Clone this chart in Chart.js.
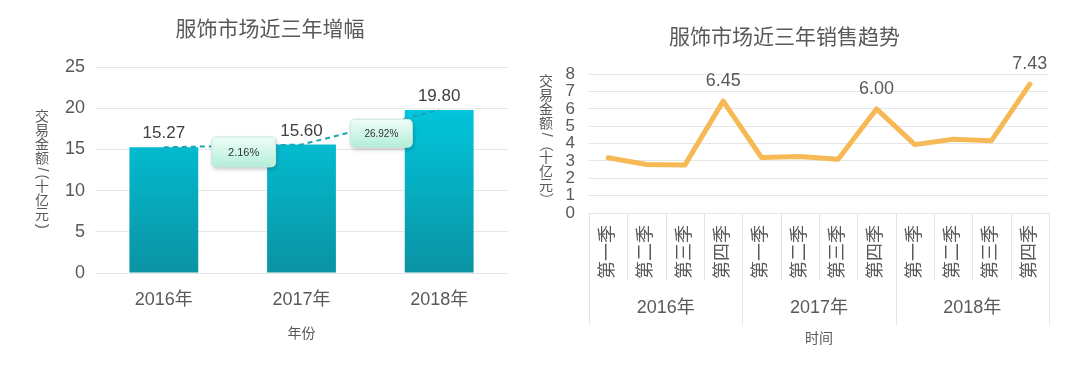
<!DOCTYPE html>
<html>
<head>
<meta charset="utf-8">
<script src="https://cdn.jsdelivr.net/npm/chart.js@4.4.1/dist/chart.umd.min.js"></script>
<style>
  body { margin: 0; background: #fff; }
  .box { position: absolute; top: 0; height: 367px; }
</style>
</head>
<body>
<div class="box" style="left:0;width:540px"><canvas id="growth"></canvas></div>
<div class="box" style="left:520px;width:560px"><canvas id="trend"></canvas></div>
<script>
// data
const years = ['2016年', '2017年', '2018年'];
const yearTotals = [15.27, 15.60, 19.80];
const growthLabels = ['2.16%', '26.92%'];

const quarters = ['第一季', '第二季', '第三季', '第四季',
                  '第一季', '第二季', '第三季', '第四季',
                  '第一季', '第二季', '第三季', '第四季'];
const quarterSales = [3.18, 2.80, 2.76, 6.45, 3.20, 3.26, 3.10, 6.00, 3.94, 4.25, 4.17, 7.43];
const peakIdx = [3, 7, 11];

const FONT = "'Liberation Sans', 'Noto Sans CJK SC', sans-serif";
const TEXT = '#595959';
const GRID = '#e6e6e6';
Chart.defaults.font.family = FONT;
Chart.defaults.color = TEXT;

// vertical axis title, one upright character at a time
function drawVerticalTitle(ctx, text, cx, cy, size) {
  ctx.save();
  ctx.font = size + 'px ' + FONT;
  ctx.fillStyle = TEXT;
  ctx.textAlign = 'center';
  ctx.textBaseline = 'middle';
  const chars = Array.from(text);
  const isCjk = c => /[\u4e00-\u9fff]/.test(c);
  const adv = chars.map(c => isCjk(c) ? size : Math.min(ctx.measureText(c).width, size * 0.7) + 3);
  const total = adv.reduce((a, b) => a + b, 0);
  let y = cy - total / 2;
  chars.forEach((c, i) => {
    const my = y + adv[i] / 2;
    if (isCjk(c)) {
      ctx.fillText(c, cx, my);
    } else {
      ctx.save();
      ctx.translate(cx, my);
      ctx.rotate(Math.PI / 2);
      ctx.fillText(c, 0, 0);
      ctx.restore();
    }
    y += adv[i];
  });
  ctx.restore();
}

function roundRect(ctx, x, y, w, h, r) {
  ctx.beginPath();
  ctx.moveTo(x + r, y);
  ctx.lineTo(x + w - r, y);
  ctx.quadraticCurveTo(x + w, y, x + w, y + r);
  ctx.lineTo(x + w, y + h - r);
  ctx.quadraticCurveTo(x + w, y + h, x + w - r, y + h);
  ctx.lineTo(x + r, y + h);
  ctx.quadraticCurveTo(x, y + h, x, y + h - r);
  ctx.lineTo(x, y + r);
  ctx.quadraticCurveTo(x, y, x + r, y);
  ctx.closePath();
}

const growthDecor = {
  id: 'growthDecor',
  afterDatasetsDraw(chart) {
    const ctx = chart.ctx;
    const bars = chart.getDatasetMeta(0).data;
    const area = chart.chartArea;

    // dashed link between bar tops
    ctx.save();
    ctx.strokeStyle = '#1aa5b4';
    ctx.lineWidth = 2;
    ctx.setLineDash([5, 4]);
    ctx.beginPath();
    bars.forEach((b, i) => i ? ctx.lineTo(b.x, b.y) : ctx.moveTo(b.x, b.y));
    ctx.stroke();
    ctx.restore();

    // value labels
    ctx.save();
    ctx.font = '17px ' + FONT;
    ctx.fillStyle = '#404040';
    ctx.textAlign = 'center';
    ctx.textBaseline = 'bottom';
    bars.forEach((b, i) => ctx.fillText(yearTotals[i].toFixed(2), b.x, b.y - 5));
    ctx.restore();

    // growth callouts
    const sizes = [[64, 30, 11], [62, 28, 10]];
    growthLabels.forEach((txt, i) => {
      const a = bars[i], b = bars[i + 1];
      const cx = (a.x + b.x) / 2 + 11, cy = (a.y + b.y) / 2 + 6;
      const [w, h, fs] = sizes[i];
      ctx.save();
      ctx.shadowColor = 'rgba(0,0,0,0.25)';
      ctx.shadowBlur = 4;
      ctx.shadowOffsetX = 1;
      ctx.shadowOffsetY = 2;
      const g = ctx.createLinearGradient(0, cy - h / 2, 0, cy + h / 2);
      g.addColorStop(0, '#effdf8');
      g.addColorStop(1, '#b3eed8');
      ctx.fillStyle = g;
      roundRect(ctx, cx - w / 2, cy - h / 2, w, h, 5);
      ctx.fill();
      ctx.shadowColor = 'transparent';
      ctx.strokeStyle = '#c9e8dc';
      ctx.lineWidth = 1;
      ctx.stroke();
      ctx.font = fs + 'px ' + FONT;
      ctx.fillStyle = '#333';
      ctx.textAlign = 'center';
      ctx.textBaseline = 'middle';
      ctx.fillText(txt, cx, cy + 1);
      ctx.restore();
    });

    drawVerticalTitle(ctx, '交易金额/(十亿元)', area.left - 53, (area.top + area.bottom) / 2, 14);
  }
};

new Chart(document.getElementById('growth'), {
  type: 'bar',
  data: {
    labels: years,
    datasets: [{
      data: yearTotals,
      backgroundColor(c) {
        const area = c.chart.chartArea;
        if (!area) return '#00b8cc';
        const g = c.chart.ctx.createLinearGradient(0, area.top, 0, area.bottom);
        g.addColorStop(0, '#00d2ea');
        g.addColorStop(1, '#0a93a3');
        return g;
      },
      barPercentage: 0.5,
      categoryPercentage: 1
    }]
  },
  options: {
    responsive: true,
    maintainAspectRatio: false,
    animation: false,
    layout: { padding: { top: 8, right: 32, bottom: 20, left: 32 } },
    plugins: {
      legend: { display: false },
      tooltip: { enabled: false },
      title: {
        display: true,
        text: '服饰市场近三年增幅',
        color: TEXT,
        font: { size: 21, weight: 'normal' },
        padding: { top: 10, bottom: 24 }
      }
    },
    scales: {
      y: {
        min: 0,
        max: 25,
        ticks: { stepSize: 5, font: { size: 18 }, padding: 10 },
        grid: { color: GRID, drawTicks: false },
        border: { display: false },
        afterFit(s) { s.width = 63; }
      },
      x: {
        grid: { display: false, drawTicks: false },
        border: { display: false },
        ticks: { font: { size: 18 }, padding: 16 },
        title: { display: true, text: '年份', font: { size: 14 }, padding: { top: 0, bottom: 4 } },
        afterFit(s) { s.height = 74; }
      }
    }
  },
  plugins: [growthDecor]
});

const trendDecor = {
  id: 'trendDecor',
  afterDraw(chart) {
    const ctx = chart.ctx;
    const xs = chart.scales.x, x2 = chart.scales.x2;
    const area = chart.chartArea;
    const half = (xs.getPixelForValue(1) - xs.getPixelForValue(0)) / 2;
    const groupBottom = x2.top + 45;

    ctx.save();
    ctx.strokeStyle = '#e3e3e3';
    ctx.lineWidth = 1;
    for (let i = 0; i <= quarters.length; i++) {
      const last = i === quarters.length;
      const x = Math.round(xs.getPixelForValue(last ? i - 1 : i) + (last ? half : -half)) + 0.5;
      ctx.beginPath();
      ctx.moveTo(x, area.bottom);
      ctx.lineTo(x, i % 4 === 0 ? groupBottom : xs.bottom);
      ctx.stroke();
    }
    ctx.restore();

    // peak labels
    const pts = chart.getDatasetMeta(0).data;
    ctx.save();
    ctx.font = '18px ' + FONT;
    ctx.fillStyle = TEXT;
    ctx.textAlign = 'center';
    ctx.textBaseline = 'bottom';
    peakIdx.forEach(i => ctx.fillText(quarterSales[i].toFixed(2), pts[i].x, pts[i].y - 11));
    ctx.restore();

    drawVerticalTitle(ctx, '交易金额/（十亿元）', area.left - 43, (area.top + area.bottom) / 2 - 3, 14);
  }
};

new Chart(document.getElementById('trend'), {
  type: 'line',
  data: {
    labels: quarters,
    datasets: [{
      data: quarterSales,
      xAxisID: 'x',
      yAxisID: 'y',
      borderColor: '#f7b955',
      borderWidth: 5,
      borderJoinStyle: 'round',
      borderCapStyle: 'round',
      pointRadius: 0,
      tension: 0,
      fill: false
    }]
  },
  options: {
    responsive: true,
    maintainAspectRatio: false,
    animation: false,
    layout: { padding: { top: 16, right: 31, bottom: 15, left: 0 } },
    plugins: {
      legend: { display: false },
      tooltip: { enabled: false },
      title: {
        display: true,
        text: '服饰市场近三年销售趋势',
        color: TEXT,
        font: { size: 21, weight: 'normal' },
        padding: { top: 10, bottom: 23 }
      }
    },
    scales: {
      x: {
        offset: true,
        weight: 0,
        grid: { display: false, drawTicks: false },
        border: { display: false },
        ticks: { font: { size: 18 }, maxRotation: 90, minRotation: 90, padding: 12, autoSkip: false },
        afterFit(s) { s.height = 67; }
      },
      x2: {
        type: 'category',
        labels: years,
        position: 'bottom',
        offset: true,
        weight: 1,
        grid: { display: false, drawTicks: false },
        border: { display: false },
        ticks: { font: { size: 18 }, padding: 17 },
        title: { display: true, text: '时间', font: { size: 14 }, padding: { top: 0, bottom: 4 } },
        afterFit(s) { s.height = 72; }
      },
      y: {
        min: 0,
        max: 8,
        ticks: { stepSize: 1, autoSkip: false, font: { size: 17, lineHeight: 1 }, padding: 14 },
        grid: { color: GRID, drawTicks: false },
        border: { display: false },
        afterFit(s) { s.width = 69; }
      }
    }
  },
  plugins: [trendDecor]
});
</script>
</body>
</html>
